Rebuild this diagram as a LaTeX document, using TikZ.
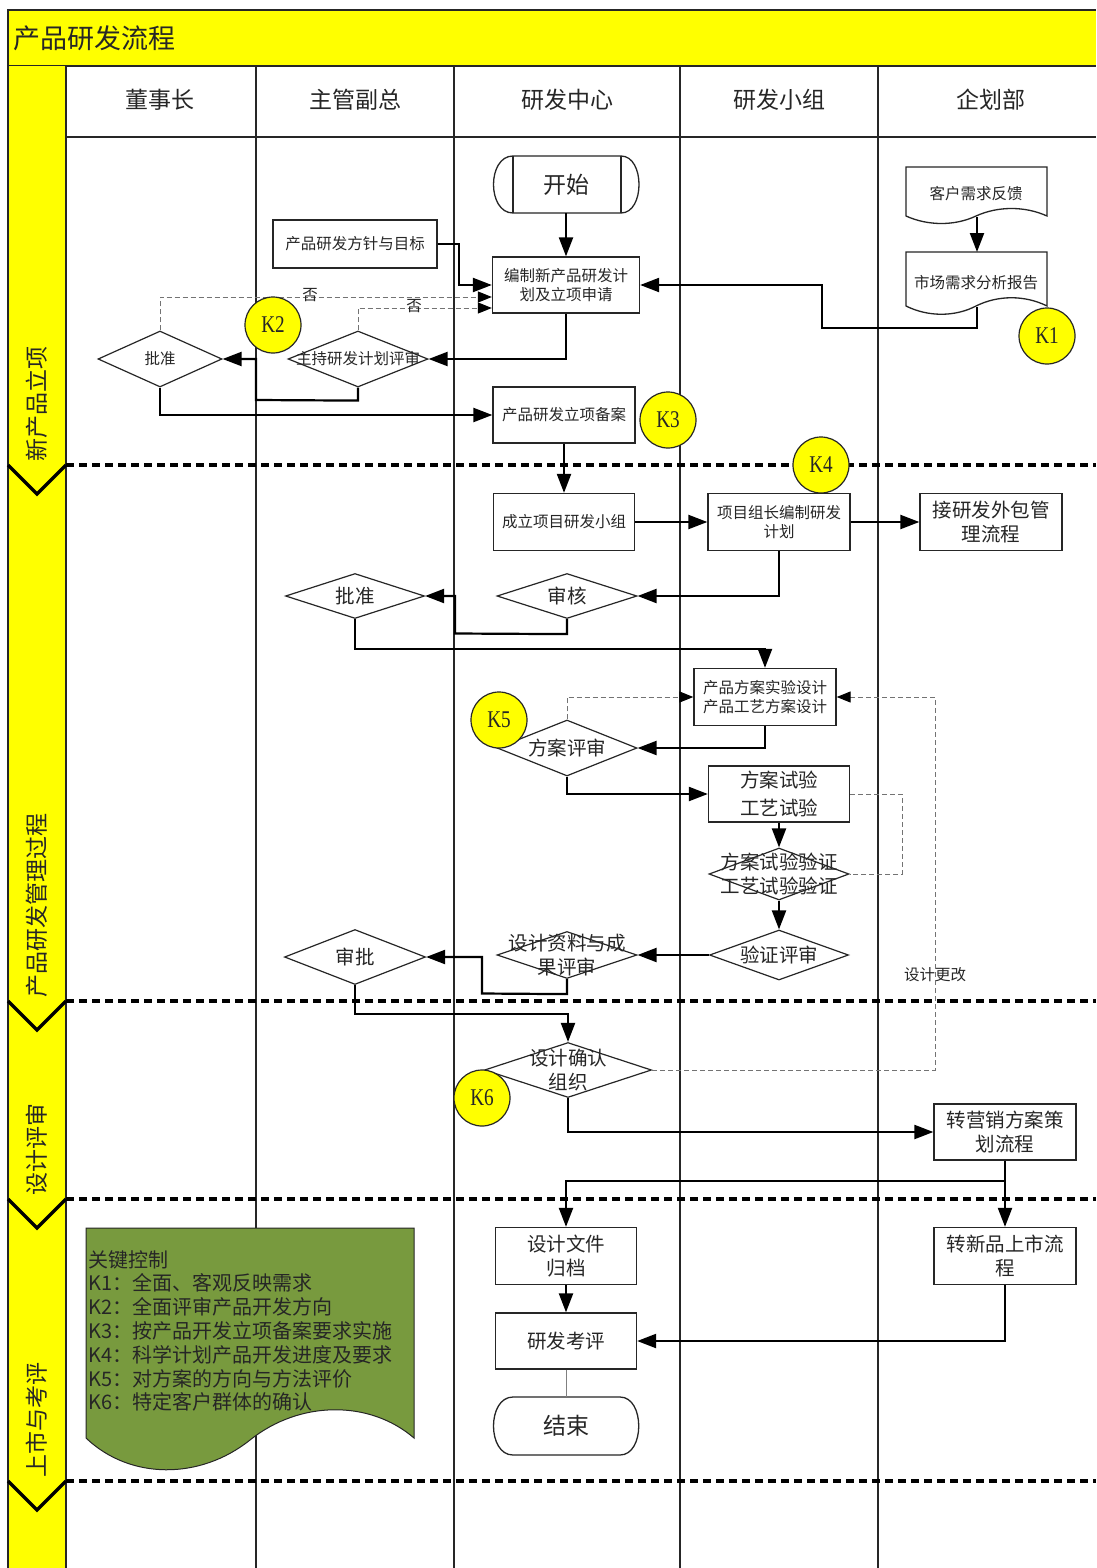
\documentclass[tikz,border=0pt]{standalone}
\usepackage{fontspec}
\usepackage{graphicx}
\usetikzlibrary{shapes.geometric,arrows.meta,calc}
\newfontfamily\cjk{Noto Sans CJK SC}
\newfontfamily\kfont{Liberation Serif}
\newcommand\szS{\cjk\fontsize{15.5}{19.5}\selectfont}
\newcommand\szM{\cjk\fontsize{19.5}{24}\selectfont}
\newcommand\szL{\cjk\fontsize{23}{28}\selectfont}
\newcommand\szT{\cjk\fontsize{27}{32}\selectfont}
\newcommand\szG{\cjk\fontsize{20}{23.8}\selectfont}
\definecolor{ygold}{HTML}{FFFF00}
\definecolor{olivegr}{HTML}{789A3E}
\definecolor{ink}{HTML}{262626}
\pgfdeclarelayer{bg}
\pgfsetlayers{bg,main}
\tikzset{
 box/.style={draw=ink, line width=1.3pt, fill=white, align=center, inner sep=2pt, text=ink, minimum width=141pt, minimum height=56pt},
 dia/.style={diamond, draw=ink, line width=1.2pt, fill=white, inner sep=0pt, minimum width=140pt, minimum height=56pt},
 txt/.style={align=center, inner sep=0pt, text=ink},
 flow/.style={draw=black, line width=2.2pt, -{Triangle[length=19pt,width=14pt]}},
 dflow/.style={draw=black!55, line width=1pt, dash pattern=on 5pt off 3pt, -{Triangle[length=14pt,width=11pt,color=black]}},
 dline/.style={draw=black!55, line width=1pt, dash pattern=on 5pt off 3pt},
 lane/.style={draw=ink, line width=1.5pt},
 sepline/.style={draw=black, line width=3.5pt, dash pattern=on 8pt off 5pt},
 chev/.style={draw=black, line width=3.5pt},
 kc/.style={circle, draw=ink, line width=1.2pt, fill=ygold, minimum size=56pt, inner sep=0pt, text=ink, font=\kfont\fontsize{24}{24}\selectfont},
 term/.style={draw=ink, line width=1.3pt, fill=white},
}
\begin{document}
\begin{tikzpicture}[x=1pt,y=-1pt]
\useasboundingbox (0,0) rectangle (1096,1568);
\begin{pgfonlayer}{bg}
\fill[white] (0,0) rectangle (1096,1568);
% title bar
\fill[ygold] (8,10) rectangle (1096,66);
\draw[ink, line width=1.3pt] (1096,10) -- (8,10) -- (8,1568);
\draw[ink, line width=1.3pt] (8,66) -- (1096,66);
% left column
\fill[ygold] (8,66) rectangle (66,1568);
\draw[ink, line width=1.3pt] (8,66) -- (8,1568);
\draw[ink, line width=1.3pt] (66,66) -- (66,1568);
% header row
\draw[lane] (66,137) -- (1096,137);
\foreach \lx in {256,454,680,878} { \draw[lane] (\lx,66) -- (\lx,1568); }
% separators
\foreach \sy in {465,1001,1199,1481} {
  \draw[sepline] (66,\sy) -- (1096,\sy);
  \draw[chev] (8,\sy) -- (37,\sy+29) -- (66,\sy);
}
\end{pgfonlayer}

% title and headers
\node[anchor=west, inner sep=0, font=\szT, text=ink] (title) at (13,38) {产品研发流程};
\node[txt, font=\szL] (h1) at (160,100) {董事长};
\node[txt, font=\szL] (h2) at (355,100) {主管副总};
\node[txt, font=\szL] (h3) at (567,100) {研发中心};
\node[txt, font=\szL] (h4) at (779,100) {研发小组};
\node[txt, font=\szL] (h5) at (991,100) {企划部};
% phase labels
\node[txt, rotate=90, anchor=west, font=\szL] (ph1) at (37,462) {新产品立项};
\node[txt, rotate=90, anchor=west, font=\szL] (ph2) at (37,998) {产品研发管理过程};
\node[txt, rotate=90, anchor=west, font=\szL] (ph3) at (37,1196) {设计评审};
\node[txt, rotate=90, anchor=west, font=\szL] (ph4) at (37,1478) {上市与考评};

% ---------- phase 1 ----------
\draw[term] (513,156) -- (621,156) .. controls (645,156) and (645,213) .. (621,213) -- (513,213) .. controls (487,213) and (487,156) .. (513,156) -- cycle;
\draw[ink, line width=1.3pt] (513,156) -- (513,213);
\draw[ink, line width=1.3pt] (621,156) -- (621,213);
\node[txt, minimum width=141pt, minimum height=57pt, font=\szL] (start) at (566,184.5) {开始};

\node[box, minimum width=164pt, minimum height=48pt, font=\szS] (fz) at (355,244) {产品研发方针与目标};
\node[box, minimum width=147pt, minimum height=56pt, font=\szS] (bz) at (566,285) {编制新产品研发计\\划及立项申请};
\node[dia, minimum width=124pt] (pz1) at (160,359) {};
\node[txt, font=\szS] (pz1t) at (pz1) {批准};
\node[dia, minimum width=140pt] (zc) at (358,359) {};
\node[txt, font=\szS] (zct) at (zc) {主持研发计划评审};
\node[box, minimum width=142pt, minimum height=56pt, font=\szS] (ba) at (564,415) {产品研发立项备案};

% documents
\draw[term] (906,167) -- (1047,167) -- (1047,216) .. controls (1025,206) and (998,206) .. (976,216) .. controls (955,226) and (928,226) .. (906,216) -- cycle;
\node[txt, font=\szS] (doc1) at (976,194) {客户需求反馈};
\draw[term] (906,252) -- (1047,252) -- (1047,306) .. controls (1025,295) and (998,295) .. (976,306) .. controls (955,317) and (928,317) .. (906,306) -- cycle;
\node[txt, font=\szS] (doc2) at (976,283) {市场需求分析报告};
\coordinate (d1b) at (977,217);
\coordinate (d2t) at (977,252);
\coordinate (d2b) at (977,307);

% ---------- phase 2 ----------
\node[box, minimum width=141pt, minimum height=57pt, font=\szS] (cl) at (564,522) {成立项目研发小组};
\node[box, minimum width=142pt, minimum height=57pt, font=\szS] (xm) at (779,522) {项目组长编制研发\\计划};
\node[box, minimum width=142pt, minimum height=57pt, font=\szM] (wb) at (991,522) {接研发外包管\\理流程};
\node[dia, minimum height=45pt] (sh) at (567,596) {};
\node[txt, font=\szM] (sht) at (sh) {审核};
\node[dia, minimum width=139pt, minimum height=45pt] (pz2) at (355,596) {};
\node[txt, font=\szM] (pz2t) at (pz2) {批准};
\node[box, minimum width=142pt, minimum height=57pt, font=\szS] (fa) at (765,697) {产品方案实验设计\\产品工艺方案设计};
\node[dia, minimum height=56pt] (fp) at (567,748) {};
\node[txt, font=\szM] (fpt) at (fp) {方案评审};
\node[box, minimum width=141pt, minimum height=56pt, font=\szM] (sy) at (779,794) {方案试验\\[4pt]工艺试验};
\node[dia, minimum height=52pt] (yz) at (779,874) {};
\node[txt, font=\szM] (yzt) at (yz) {方案试验验证\\工艺试验验证};
\node[dia, minimum width=139pt, minimum height=50pt] (ps) at (779,955) {};
\node[txt, font=\szM] (pst) at (ps) {验证评审};
\node[dia, minimum height=47pt] (zl) at (567,955) {};
\node[txt, font=\szM] (zlt) at (zl) {设计资料与成\\果评审};
\node[dia, minimum width=141pt, minimum height=55pt] (sp) at (355,957) {};
\node[txt, font=\szM] (spt) at (sp) {审批};

% ---------- phase 3 ----------
\node[dia, minimum width=167pt, minimum height=55pt] (qr) at (568,1070) {};
\node[txt, font=\szM] (qrt) at (qr) {设计确认\\组织};
\node[box, minimum width=142pt, minimum height=56pt, font=\szM] (yx) at (1005,1132) {转营销方案策\\划流程};

% ---------- phase 4 ----------
\fill[olivegr, draw=ink, line width=1pt] (86,1228) -- (414,1228) -- (414,1438) .. controls (370,1400) and (300,1400) .. (250,1440) .. controls (200,1480) and (130,1480) .. (86,1438) -- cycle;
\node[anchor=north west, align=left, inner sep=0pt, text=ink, font=\szG] (kz) at (88,1250) {关键控制\\K1：全面、客观反映需求\\K2：全面评审产品开发方向\\K3：按产品开发立项备案要求实施\\K4：科学计划产品开发进度及要求\\K5：对方案的方向与方法评价\\K6：特定客户群体的确认};
\node[box, minimum width=141pt, minimum height=57pt, font=\szM] (gd) at (566,1256) {设计文件\\归档};
\node[box, minimum width=141pt, minimum height=56pt, font=\szM] (kp) at (566,1341) {研发考评};
\draw[term] (513,1397) -- (620,1397) .. controls (645,1397) and (645,1455) .. (620,1455) -- (513,1455) .. controls (487,1455) and (487,1397) .. (513,1397) -- cycle;
\node[txt, minimum width=141pt, minimum height=58pt, font=\szL] (end) at (566,1426) {结束};
\node[box, minimum width=142pt, minimum height=57pt, font=\szM] (xs) at (1005,1256) {转新品上市流\\程};

% ---------- connectors ----------
\draw[flow] (start.south) -- (bz.north);
\draw[flow] (fz.east) -- ++(21,0) |- (bz.west);
\draw[flow] (d1b) -- (d2t);
\draw[flow] (d2b) -- (977,328) -- (822,328) |- (bz.east);
\draw[flow] (bz.south) |- (zc.east);
\draw[flow] (zc.south) -- ++(0,13) -- (256,400) |- (pz1.east);
\draw[flow] (pz1.south) |- (ba.west);
\draw[dflow] (pz1.north) |- ($(bz.west)+(0,12)$);
\draw[dflow] (zc.north) |- ($(bz.west)+(0,23)$);
\node[txt, font=\szS] (no1) at (310,295) {否};
\node[txt, font=\szS] (no2) at (414,306) {否};

\draw[flow] (ba.south) -- (cl.north);
\draw[flow] (cl.east) -- (xm.west);
\draw[flow] (xm.east) -- (wb.west);
\draw[flow] (xm.south) |- (sh.east);
\draw[flow] (sh.south) -- ++(0,15) -- (455,633.5) |- (pz2.east);
\draw[flow] (pz2.south) -- ++(0,30) -| (fa.north);
\draw[flow] (fa.south) |- (fp.east);
\draw[dflow] (fp.north) |- (fa.west);
\draw[flow] (fp.south) |- (sy.west);
\draw[flow] (sy.south) -- (yz.north);
\draw[dline] (sy.east) -- ++(52,0) |- (yz.east);
\draw[flow] (yz.south) -- (ps.north);
\draw[flow] (ps.west) -- (zl.east);
\draw[flow] (zl.south) -- ++(0,15) -- (482,993.5) |- (sp.east);
\draw[flow] (sp.south) -- ++(0,29) -| (qr.north);
\draw[dflow] (qr.east) -- (935,1070) |- (fa.east);
\node[txt, font=\szS] (gg) at (935,975) {设计更改};
\draw[flow] (qr.south) |- (yx.west);
\coordinate (br) at (1005,1181);
\draw[line width=2.2pt] (yx.south) -- (br);
\draw[flow] (br) -| (gd.north);
\draw[flow] (br) -- (xs.north);
\draw[flow] (gd.south) -- (kp.north);
\draw[flow] (xs.south) |- (kp.east);
\draw[draw=black!50, line width=1pt] (kp.south) -- (end.north);

% ---------- K circles ----------
\node[kc] (k1) at (1047,336) {\scalebox{0.8}[1]{K1}};
\node[kc] (k2) at (273,325) {\scalebox{0.8}[1]{K2}};
\node[kc] (k3) at (668,420) {\scalebox{0.8}[1]{K3}};
\node[kc] (k4) at (821,465) {\scalebox{0.8}[1]{K4}};
\node[kc] (k5) at (499,720) {\scalebox{0.8}[1]{K5}};
\node[kc] (k6) at (482,1098) {\scalebox{0.8}[1]{K6}};
\end{tikzpicture}
\end{document}
